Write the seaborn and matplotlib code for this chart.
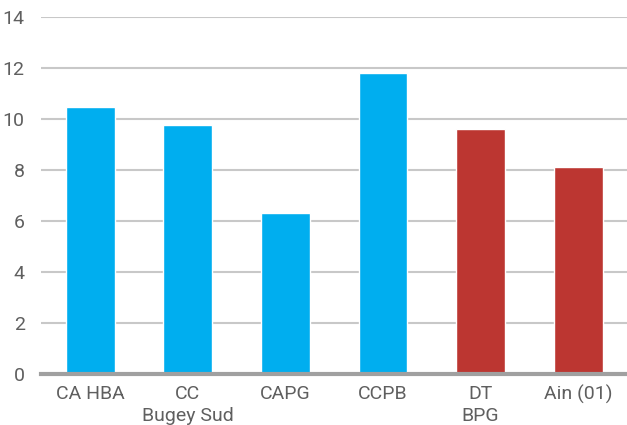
import matplotlib
matplotlib.use("Agg")
import matplotlib.pyplot as plt
import seaborn as sns
import pandas as pd

categories = ["CA HBA", "CC\nBugey Sud", "CAPG", "CCPB", "DT\nBPG", "Ain (01)"]
values = [10.45, 9.75, 6.3, 11.8, 9.6, 8.1]
groups = ["a", "a", "a", "a", "b", "b"]
palette = {"a": "#00AEEF", "b": "#BC3631"}
yticks = [0, 2, 4, 6, 8, 10, 12, 14]

sns.set_theme(style="white")
plt.rcParams['font.family'] = ['Roboto', 'DejaVu Sans']

df = pd.DataFrame({"cat": categories, "val": values, "grp": groups})

fig = plt.figure(figsize=(6.27, 4.25), dpi=100)
ax = fig.add_axes([0.066, 0.12, 0.934, 0.841])
sns.barplot(data=df, x="cat", y="val", hue="grp", palette=palette,
            dodge=False, width=0.5, legend=False, ax=ax, saturation=1)
ax.set_ylim(0, 14)
ax.set_yticks(yticks)
ax.set_yticklabels([str(t) for t in yticks])
ax.set_xlabel("")
ax.set_ylabel("")
ax.yaxis.grid(True, color="#c8c8c8", linewidth=1.5)
ax.set_axisbelow(True)
for s in ["left", "right", "top"]:
    ax.spines[s].set_visible(False)
ax.spines["bottom"].set_color("#a0a0a0")
ax.spines["bottom"].set_linewidth(3)
ax.spines["bottom"].set_zorder(5)
ax.tick_params(axis="both", length=0, labelsize=14, colors="#5f5f5f")
ax.tick_params(axis="x", pad=8)
ax.tick_params(axis="y", pad=12)
for lbl in ax.get_xticklabels():
    lbl.set_linespacing(1.3)
fig.savefig("out.png", dpi=100)
